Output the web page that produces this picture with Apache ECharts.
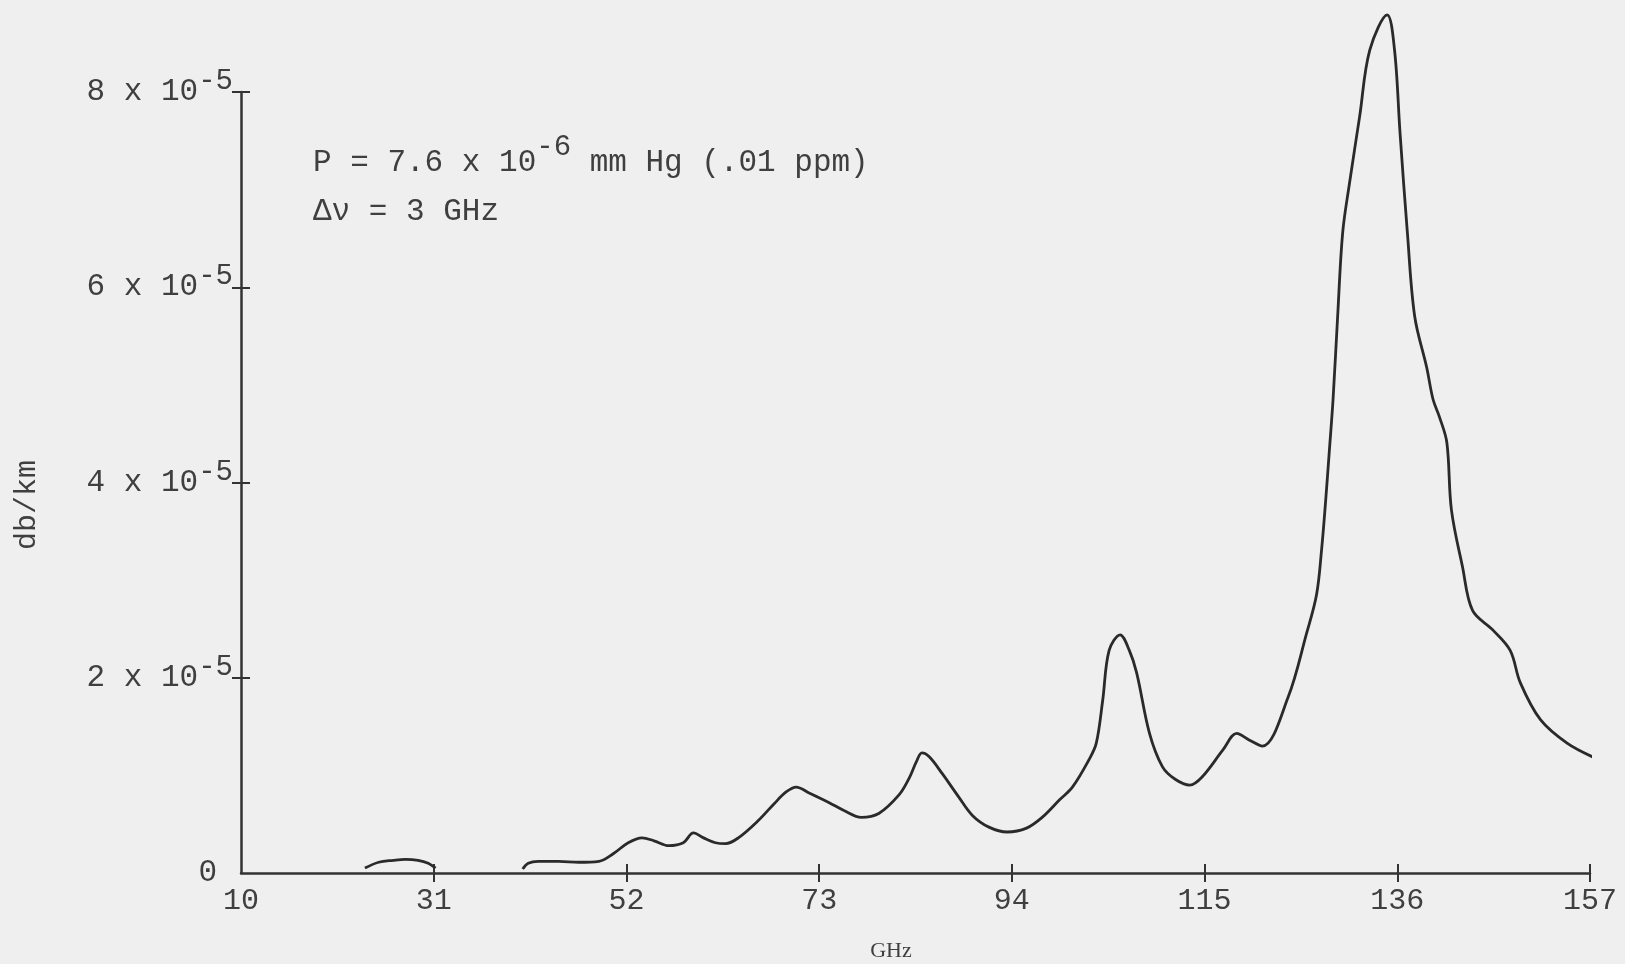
<!DOCTYPE html>
<html>
<head>
<meta charset="utf-8">
<script src="https://cdn.jsdelivr.net/npm/echarts@6/dist/echarts.min.js"></script>
<style>
  html, body { margin: 0; padding: 0; background: #efefef; }
  #chart { width: 1625px; height: 964px; }
</style>
</head>
<body>
<div id="chart"></div>
<script>
// Frequency (GHz) of each traced point on the absorption curve
const ghz = [
  23.5, 25.0, 26.6, 27.9, 29.3, 30.4, 31.2,
  36.0,
  40.7, 41.3, 42.4, 44.6, 46.8, 49.0, 50.6, 52.2, 53.7, 55.0, 56.6, 58.2,
  59.3, 60.4, 61.7, 62.8, 64.2, 66.4, 68.1, 69.4, 70.5, 71.9, 74.1, 75.7,
  77.6, 79.5, 81.7, 82.8, 83.6, 84.2, 85.0, 86.4, 88.2, 89.7, 91.5, 93.5,
  95.6, 97.3, 99.2, 100.6, 102.4, 103.2, 103.9, 104.6, 105.8, 106.8, 107.6,
  109.0, 110.4, 111.8, 113.4, 114.7, 117.0, 118.5, 119.9, 121.3, 124.1,
  126.1, 127.2, 127.75, 128.2, 128.6, 129.0, 129.5, 130.05, 130.8, 131.9, 133.0,
  134.9, 135.7, 136.3, 137.1, 137.9, 139.2, 139.9, 140.6, 141.4, 141.9,
  143.1, 144.2, 146.4, 148.3, 149.4, 151.6, 154.5, 157.5
];

// Attenuation in units of 10^-5 db/km (null = gap in the trace)
const attenE5 = [
  0.05, 0.11, 0.13, 0.14, 0.13, 0.10, 0.05,
  null,
  0.04, 0.10, 0.12, 0.12, 0.11, 0.12, 0.20, 0.31, 0.36, 0.33, 0.28, 0.31,
  0.41, 0.36, 0.31, 0.30, 0.36, 0.54, 0.71, 0.83, 0.88, 0.82, 0.72, 0.64,
  0.57, 0.61, 0.80, 0.97, 1.14, 1.23, 1.19, 1.02, 0.78, 0.59, 0.47, 0.42,
  0.46, 0.57, 0.75, 0.88, 1.16, 1.33, 1.77, 2.28, 2.44, 2.28, 2.05,
  1.43, 1.09, 0.96, 0.90, 0.98, 1.26, 1.43, 1.36, 1.30, 1.80,
  2.45, 2.85, 3.31, 3.82, 4.33, 4.85, 5.70, 6.56, 7.07, 7.75, 8.43,
  8.79, 8.43, 7.58, 6.56, 5.70, 5.18, 4.85, 4.67, 4.41, 3.72,
  3.14, 2.69, 2.49, 2.28, 1.95, 1.57, 1.33, 1.18
];

// Axis tick positions and labels
const ghzLabels = [10, 31, 52, 73, 94, 115, 136, 157];
const ghzTicks = [31, 52, 73, 94, 115, 136, 157];
const attenLabels = [0, 2, 4, 6, 8];
const attenTicks = [2, 4, 6, 8];

const INK = '#333333';
const TEXT = '#3f3f3f';
const MONO = '"Liberation Mono", "DejaVu Sans Mono", monospace';
const SERIF = '"Liberation Serif", "DejaVu Serif", serif';

const points = ghz.map((g, i) => [g, attenE5[i]]);

const chart = echarts.init(document.getElementById('chart'), null, { renderer: 'canvas' });

chart.setOption({
  backgroundColor: '#efefef',
  animation: false,
  grid: { left: 241, right: 35, top: 92, bottom: 91, containLabel: false },
  xAxis: [
    {
      type: 'value', min: 10, max: 157,
      axisLine: { show: true, lineStyle: { color: INK, width: 2.5 } },
      axisTick: { show: true, length: 9, customValues: ghzTicks, lineStyle: { color: INK, width: 2 } },
      axisLabel: {
        show: true, customValues: ghzLabels, margin: 13,
        fontFamily: MONO, fontSize: 30, color: TEXT
      },
      splitLine: { show: false }
    },
    {
      type: 'value', min: 10, max: 157, position: 'bottom',
      axisLine: { show: false },
      axisTick: { show: true, inside: true, length: 9, customValues: ghzTicks, lineStyle: { color: INK, width: 2 } },
      axisLabel: { show: false },
      splitLine: { show: false }
    }
  ],
  yAxis: [
    {
      type: 'value', min: 0, max: 8,
      axisLine: { show: true, lineStyle: { color: INK, width: 2.5 } },
      axisTick: { show: true, length: 9, customValues: attenTicks, lineStyle: { color: INK, width: 2 } },
      axisLabel: {
        show: true, customValues: attenLabels, margin: 8, align: 'right',
        formatter: v => v === 0 ? '{z|0}' : '{m|' + v + ' x 10}{s|-5}',
        rich: {
          m: { fontFamily: MONO, fontSize: 31, color: TEXT, lineHeight: 50, verticalAlign: 'middle' },
          s: { fontFamily: MONO, fontSize: 29, color: TEXT, lineHeight: 30, verticalAlign: 'top' },
          z: { fontFamily: MONO, fontSize: 31, color: TEXT, lineHeight: 50, padding: [0, 16, 0, 0] }
        }
      },
      splitLine: { show: false }
    },
    {
      type: 'value', min: 0, max: 8, position: 'left',
      axisLine: { show: false },
      axisTick: { show: true, inside: true, length: 9, customValues: attenTicks, lineStyle: { color: INK, width: 2 } },
      axisLabel: { show: false },
      splitLine: { show: false }
    }
  ],
  series: [
    {
      type: 'line',
      data: points,
      xAxisIndex: 0, yAxisIndex: 0,
      showSymbol: false,
      symbol: 'none',
      smooth: 0.35,
      connectNulls: false,
      clip: false,
      lineStyle: { color: '#2a2a2a', width: 2.8 }
    }
  ],
  graphic: [
    {
      type: 'text', x: 313, y: 163,
      style: {
        text: '{m|P = 7.6 x 10}{s|-6}{m| mm Hg (.01 ppm)}',
        verticalAlign: 'middle', align: 'left',
        rich: {
          m: { fontFamily: MONO, fontSize: 31, fill: TEXT, lineHeight: 60, verticalAlign: 'middle' },
          s: { fontFamily: MONO, fontSize: 29, fill: TEXT, lineHeight: 28, verticalAlign: 'top' }
        }
      }
    },
    {
      type: 'text', x: 313, y: 212,
      style: {
        text: 'Δν = 3 GHz', fontFamily: MONO, fontSize: 31, fill: TEXT,
        verticalAlign: 'middle', align: 'left'
      }
    },
    {
      type: 'text', x: 891, y: 951,
      style: {
        text: 'GHz', fontFamily: SERIF, fontSize: 22, fill: TEXT,
        verticalAlign: 'middle', align: 'center'
      }
    },
    {
      type: 'text', x: 27, y: 505, rotation: Math.PI / 2,
      style: {
        text: 'db/km', fontFamily: MONO, fontSize: 30, fill: TEXT,
        verticalAlign: 'middle', align: 'center'
      }
    }
  ]
});
</script>
</body>
</html>
